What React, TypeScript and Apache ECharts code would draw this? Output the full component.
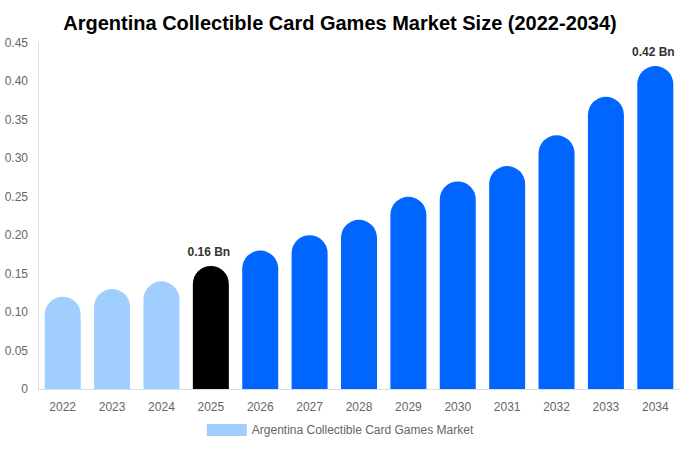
import { useEffect, useRef } from "react";
import * as echarts from "echarts";

const YEARS = ["2022", "2023", "2024", "2025", "2026", "2027", "2028", "2029", "2030", "2031", "2032", "2033", "2034"];
const VALUES = [0.12, 0.13, 0.14, 0.16, 0.18, 0.2, 0.22, 0.25, 0.27, 0.29, 0.33, 0.38, 0.42];
const LABELED = ["2025", "2034"];

const HISTORIC = "#a0cfff";
const BASE = "#000000";
const FORECAST = "#0066ff";
const FONT = "'Liberation Sans', Arial, sans-serif";

export default function App() {
  const chartRef = useRef<HTMLDivElement>(null);

  useEffect(() => {
    if (!chartRef.current) return;
    const chart = echarts.init(chartRef.current, undefined, { renderer: "svg" });

    const data = VALUES.map((v, i) => {
      const year = Number(YEARS[i]);
      const color = year < 2025 ? HISTORIC : year === 2025 ? BASE : FORECAST;
      return {
        value: v,
        itemStyle: { color, borderRadius: [18, 18, 0, 0] },
        label: {
          show: LABELED.includes(YEARS[i]),
          position: "top",
          distance: 8,
          offset: [-2, 0],
          formatter: `${v.toFixed(2)} Bn`,
          fontWeight: "bold",
          fontSize: 12,
          color: "#333",
          fontFamily: FONT,
        },
      };
    });

    chart.setOption({
      animation: false,
      textStyle: { fontFamily: FONT },
      title: {
        text: "Argentina Collectible Card Games Market Size (2022-2034)",
        left: "center",
        top: 8,
        textStyle: { fontSize: 20, fontWeight: "bold", color: "#000", fontFamily: FONT },
      },
      grid: { left: 38, right: 0, top: 43, bottom: 61 },
      legend: {
        bottom: 9,
        left: "center",
        itemWidth: 40,
        itemHeight: 12,
        icon: "rect",
        textStyle: { color: "#666", fontSize: 12, fontFamily: FONT },
        data: [{ name: "Argentina Collectible Card Games Market", itemStyle: { color: HISTORIC } }],
      },
      xAxis: {
        type: "category",
        data: YEARS,
        axisLine: { lineStyle: { color: "#ddd" } },
        axisTick: { show: false },
        axisLabel: { color: "#666", fontSize: 12, margin: 12, fontFamily: FONT },
      },
      yAxis: {
        type: "value",
        min: 0,
        max: 0.45,
        interval: 0.05,
        axisLine: { show: true, lineStyle: { color: "#ddd" } },
        axisTick: { show: false },
        splitLine: { show: false },
        axisLabel: {
          color: "#666",
          fontSize: 12,
          margin: 10,
          fontFamily: FONT,
          formatter: (v: number) => (v === 0 ? "0" : v.toFixed(2)),
        },
      },
      series: [
        {
          name: "Argentina Collectible Card Games Market",
          type: "bar",
          barWidth: 36,
          data,
        },
      ],
    });

    return () => chart.dispose();
  }, []);

  return <div ref={chartRef} style={{ position: "absolute", left: 0, top: 0, width: 680, height: 450 }} />;
}
